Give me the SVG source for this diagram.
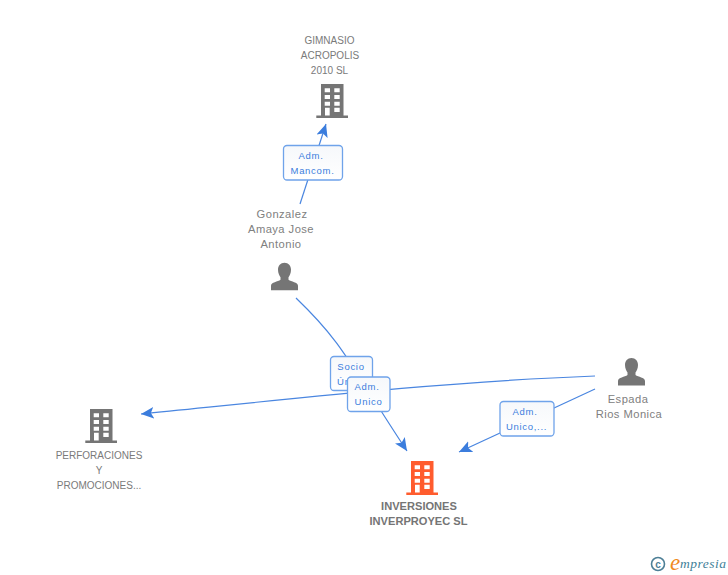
<svg xmlns="http://www.w3.org/2000/svg" width="728" height="575" viewBox="0 0 728 575">
<style>
.l{font-family:"Liberation Sans",Arial,sans-serif;font-size:10px;fill:#7a7a7a;text-anchor:middle}
.p{font-size:11.200px;letter-spacing:.45px;fill:#808080}
.m{font-weight:bold;font-size:11.100px;fill:#757575}
.b{font-family:"Liberation Sans",Arial,sans-serif;font-size:9.500px;letter-spacing:.7px;fill:#3b7ddd;text-anchor:middle}
.c{fill:none;stroke:#4a86e0;stroke-width:1.200}
.box{fill:url(#g);stroke:#6fa3ea;stroke-width:1.300}
</style>
<defs>
<linearGradient id="g" x1="0" y1="0" x2="0" y2="1"><stop offset="0" stop-color="#f6f8fb"/><stop offset="1" stop-color="#fff"/></linearGradient>
<marker id="a" markerWidth="14" markerHeight="14" refX="11" refY="5" orient="auto" markerUnits="userSpaceOnUse" viewBox="0 0 12 10"><path d="M0 0L11 5L0 10L2.500 5Z" fill="#3b7ddd"/></marker>
<path id="bld" fill-rule="evenodd" d="M5 0H27.500V31.500H32V34H.3V31.500H5ZM8.700 4.300V8.300H14V4.300ZM18.300 4.300V8.300H23.700V4.300ZM8.700 11V15H14V11ZM18.300 11V15H23.700V11ZM8.700 17.700V21.700H14V17.700ZM18.300 17.700V21.700H23.700V17.700ZM9 23.700V31.500H13.700V23.700ZM18.300 23.700V28H23.700V23.700Z"/>
<path id="per" d="M13.500 0C17.500 0 20 3 20 7C20 10.500 18.500 13 17.500 14.500V17C20 19 27 19.500 27 23V27.500H0V23C0 19.500 7 19 9.500 17V14.500C8.500 13 7 10.500 7 7C7 3 9.500 0 13.500 0Z"/>
</defs>
<g id="connectors">
<path class="c" d="M300 204L326 124" marker-end="url(#a)"/>
<path class="c" d="M296 298C345 345 350 365 407 451" marker-end="url(#a)"/>
<path class="c" d="M595 376C440 382 300 398 141 414" marker-end="url(#a)"/>
<path class="c" d="M595 389L459 452" marker-end="url(#a)"/>
</g>
<g id="label-mancom"><rect class="box" x="283.500" y="145.500" width="59" height="34.500" rx="3.500"/><text class="b" x="311" y="159">Adm.</text><text class="b" x="312.500" y="174">Mancom.</text></g>
<g id="label-socio"><rect class="box" x="330.500" y="356.500" width="42" height="34" rx="3.500"/><text class="b" x="351" y="370">Socio</text><text class="b" x="351" y="385">Único</text></g>
<g id="label-unico"><rect class="box" x="347.500" y="377" width="42.500" height="34.500" rx="3.500"/><text class="b" x="367" y="390">Adm.</text><text class="b" x="368.500" y="405">Unico</text></g>
<g id="label-unico2"><rect class="box" x="500" y="401.500" width="54" height="34.500" rx="3.500"/><text class="b" x="525" y="415">Adm.</text><text class="b" x="526.500" y="430">Unico,...</text></g>
<g id="node-gimnasio"><use href="#bld" x="316" y="84" fill="#757575"/><text class="l" x="329.500" y="44">GIMNASIO</text><text class="l" x="330" y="59">ACROPOLIS</text><text class="l" x="329.500" y="74">2010 SL</text></g>
<g id="node-gonzalez"><use href="#per" x="271" y="262.700" fill="#757575"/><text class="l p" x="282" y="218">Gonzalez</text><text class="l p" x="281" y="233">Amaya Jose</text><text class="l p" x="281" y="248">Antonio</text></g>
<g id="node-espada"><use href="#per" x="618" y="358" fill="#757575"/><text class="l p" x="628" y="403">Espada</text><text class="l p" x="629" y="418">Rios Monica</text></g>
<g id="node-perforaciones"><use href="#bld" x="85" y="409" fill="#757575"/><text class="l" x="99" y="459">PERFORACIONES</text><text class="l" x="99" y="474">Y</text><text class="l" x="99" y="489">PROMOCIONES...</text></g>
<g id="node-inversiones"><use href="#bld" x="406" y="461" fill="#ff5c2e"/><text class="l m" x="419" y="510">INVERSIONES</text><text class="l m" x="418.500" y="525">INVERPROYEC SL</text></g>
<g id="logo"><circle cx="658" cy="564" r="6.500" fill="none" stroke="#4d7f96" stroke-width="1.600"/><text x="658" y="567.500" font-family="Liberation Sans,sans-serif" font-size="10" font-weight="bold" fill="#4d7f96" text-anchor="middle">c</text><text x="670" y="570" font-family="Liberation Serif,serif" font-size="23" font-style="italic" fill="#f08a1d">e</text><text x="680" y="568" font-family="Liberation Serif,serif" font-size="13.500" font-style="italic" letter-spacing=".5" fill="#3f7f98">mpresia</text></g>
</svg>
